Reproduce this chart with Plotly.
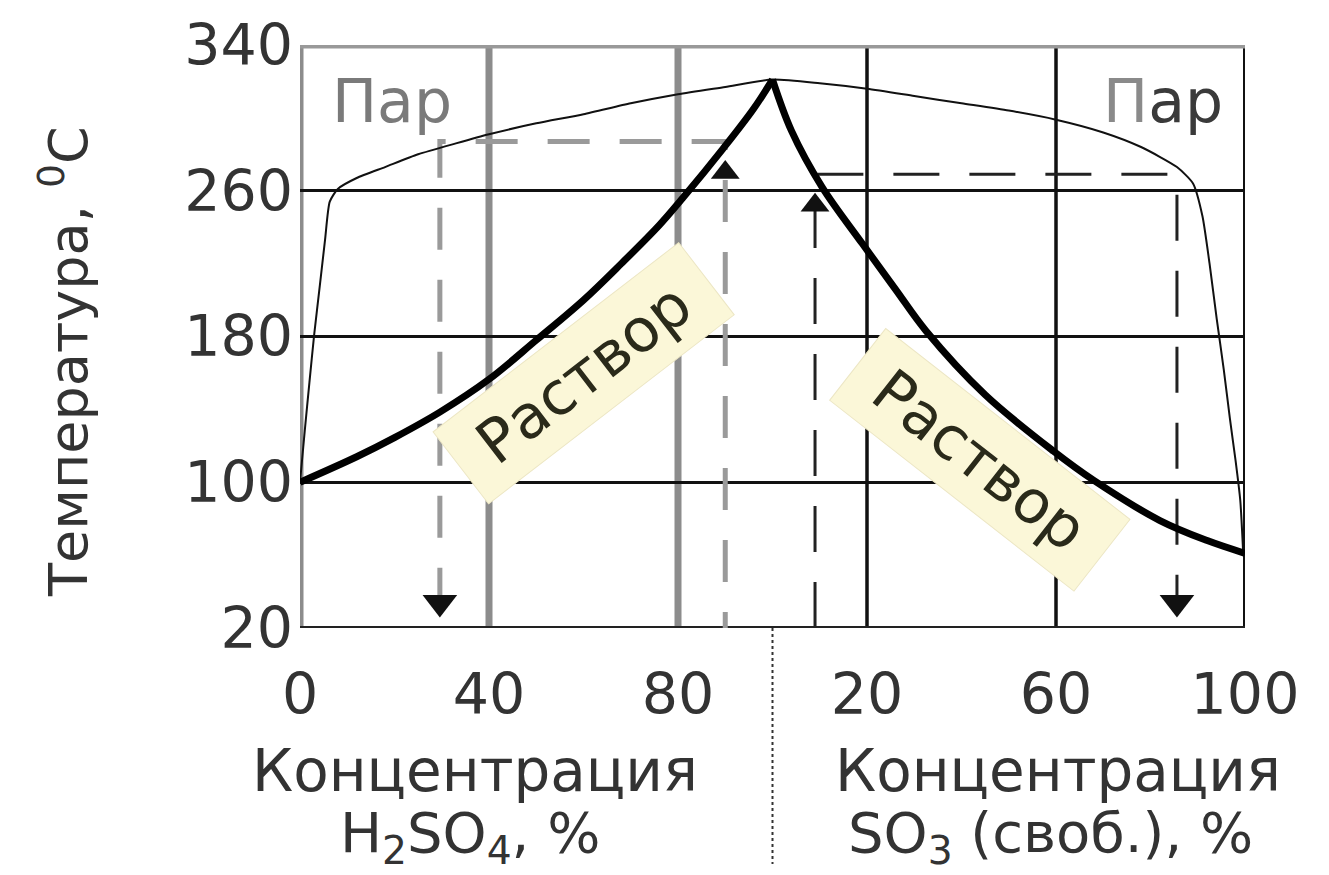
import plotly.graph_objects as go

# Temperature axis, deg C
t_ticks = [20, 100, 180, 260, 340]

# Composite concentration axis: 0..100 -> H2SO4 %, 100..200 -> free SO3 %
x_tickvals = [0, 40, 80, 120, 160, 200]
x_ticktext = ["0", "40", "80", "20", "60", "100"]

# Vapour (condensation) curve
vap_x = [0, 1, 2, 3, 4.2, 5.3, 6.3, 8, 12, 18, 25, 33, 40, 50, 60, 70, 80, 90, 100,
         110, 120, 130, 140, 150, 160, 170, 178, 185.6, 189, 191, 192.5, 194, 195.5,
         196.8, 198, 199, 199.6]
vap_t = [100, 128, 155, 181, 208, 233, 254, 261, 267, 273, 280, 286, 291, 297, 302, 308,
         313, 317, 321, 319, 316, 312, 308, 304, 299, 292, 284, 273, 264, 246, 220, 190,
         162, 135, 112, 90, 62]

# Boiling curve of the liquid, H2SO4 branch
liq_h2so4_x = [0, 12, 20, 29.6, 40, 50, 60, 68, 76, 81, 89.5, 96, 100]
liq_h2so4_t = [100, 114, 124.5, 138.5, 156.5, 178, 200, 220, 241, 256, 283, 305, 321]

# Boiling curve of the liquid, oleum branch
liq_oleum_x = [100, 104, 110.5, 119, 126, 132.5, 145, 159.5, 168, 182, 192, 200]
liq_oleum_t = [321, 293, 262, 231, 206, 183, 148, 117, 101, 79, 68, 61]

# Example paths (tie lines) on each side
path_h2so4_x = [29.6, 29.6, 90, 90]
path_h2so4_t = [30, 287, 287, 20]
path_oleum_x = [109, 109, 185.6, 185.6]
path_oleum_t = [20, 269, 269, 30]

arrow_down_x = [29.6, 185.6]
arrow_down_t = [34, 34]
arrow_up_x = [90, 109]
arrow_up_t = [270, 252]

FONT = "DejaVu Sans"
GREY = "#8c8c8c"
INK = "#333333"

fig = go.Figure()

# vertical grid lines and frame
for xv, col, w in [(40, GREY, 7), (80, GREY, 7), (120, "#111111", 3.5), (160, "#111111", 3.5)]:
    fig.add_shape(type="line", xref="x", yref="paper", x0=xv, x1=xv, y0=0, y1=1,
                  line=dict(color=col, width=w), layer="below")
fig.add_shape(type="line", xref="x", yref="paper", x0=0, x1=0, y0=0, y1=1,
              line=dict(color=GREY, width=7), layer="below")
fig.add_shape(type="line", xref="x", yref="paper", x0=200, x1=200, y0=0, y1=1,
              line=dict(color="#111111", width=4), layer="below")
fig.add_shape(type="line", xref="paper", yref="y", x0=0, x1=1, y0=340, y1=340,
              line=dict(color="#999999", width=7), layer="below")
fig.add_shape(type="line", xref="paper", yref="y", x0=0, x1=1, y0=20, y1=20,
              line=dict(color="#222222", width=4), layer="below")

# separator between the two concentration scales
fig.add_shape(type="line", xref="x", yref="paper", x0=100, x1=100, y0=0, y1=-0.405,
              line=dict(color=INK, width=2, dash="dot"))

# tie lines
fig.add_trace(go.Scatter(x=path_h2so4_x, y=path_h2so4_t, mode="lines",
                         line=dict(color="#9a9a9a", width=5, dash="42px,30px"),
                         hoverinfo="skip", showlegend=False))
fig.add_trace(go.Scatter(x=path_oleum_x, y=path_oleum_t, mode="lines",
                         line=dict(color="#222222", width=3, dash="46px,30px"),
                         hoverinfo="skip", showlegend=False))

# vapour curve
fig.add_trace(go.Scatter(x=vap_x, y=vap_t, mode="lines",
                         line=dict(color="#111111", width=2, shape="spline", smoothing=0.6),
                         showlegend=False))
# liquid curves
fig.add_trace(go.Scatter(x=liq_h2so4_x, y=liq_h2so4_t, mode="lines",
                         line=dict(color="#000000", width=7, shape="spline", smoothing=1.0),
                         showlegend=False))
fig.add_trace(go.Scatter(x=liq_oleum_x, y=liq_oleum_t, mode="lines",
                         line=dict(color="#000000", width=7, shape="spline", smoothing=1.0),
                         showlegend=False))

# arrow heads
fig.add_trace(go.Scatter(x=arrow_down_x, y=arrow_down_t, mode="markers",
                         marker=dict(symbol="triangle-down", size=30, color="#111111"),
                         showlegend=False))
fig.add_trace(go.Scatter(x=arrow_up_x, y=arrow_up_t, mode="markers",
                         marker=dict(symbol="triangle-up", size=25, color="#111111"),
                         showlegend=False))

ann = []
# phase labels
ann.append(dict(x=19.5, y=309, xref="x", yref="y", text="Пар", showarrow=False,
                xanchor="center", yanchor="middle",
                font=dict(family=FONT, size=60, color="#7a7a7a")))
ann.append(dict(x=182.6, y=309, xref="x", yref="y",
                text="<span style='color:#8a8a8a'>П</span>ар", showarrow=False,
                xanchor="center", yanchor="middle",
                font=dict(family=FONT, size=60, color="#3a3a3a")))
box = dict(showarrow=False, bgcolor="#fbf7d8", bordercolor="#ece6c4", borderwidth=1,
           borderpad=10, xanchor="center", yanchor="middle",
           font=dict(family=FONT, size=60, color="#2a2a1a"))
ann.append(dict(x=60.1, y=160, xref="x", yref="y", text=" Раствор ", textangle=-37.6, **box))
ann.append(dict(x=143.9, y=112, xref="x", yref="y", text=" Раствор ", textangle=38, **box))

# axis titles
common = dict(xref="paper", yref="paper", showarrow=False, xanchor="center",
              yanchor="middle")
f1 = dict(family=FONT, size=58, color=INK)
f2 = dict(family=FONT, size=56, color=INK)
ann.append(dict(x=0.185, y=-0.245, text="Концентрация", font=f1, **common))
ann.append(dict(x=0.18, y=-0.357, text="H<sub>2</sub>SO<sub>4</sub>, %", font=f2, **common))
ann.append(dict(x=0.802, y=-0.245, text="Концентрация", font=f1, **common))
ann.append(dict(x=0.794, y=-0.357, text="SO<sub>3</sub> (своб.), %", font=f2, **common))
ann.append(dict(x=-0.2487, y=0.458, xref="paper", yref="paper",
                text="Температура, <sup>0</sup>C", textangle=-90,
                xanchor="center", yanchor="middle",
                showarrow=False, font=dict(family=FONT, size=54, color=INK)))

fig.update_layout(
    width=1329, height=875, autosize=False,
    margin=dict(l=300, r=84, t=43, b=247),
    plot_bgcolor="white", paper_bgcolor="white",
    annotations=ann,
    xaxis=dict(range=[0, 200], tickvals=x_tickvals, ticktext=x_ticktext,
               showgrid=False, zeroline=False, showline=False, ticks="",
               ticklabelstandoff=28,
               tickfont=dict(family=FONT, size=57, color=INK)),
    yaxis=dict(range=[20, 340], tickvals=t_ticks, showgrid=True,
               gridcolor="#111111", gridwidth=3, zeroline=False, showline=False,
               ticks="", ticklabelstandoff=6,
               tickfont=dict(family=FONT, size=57, color=INK)),
)

fig.write_html("out.html")
